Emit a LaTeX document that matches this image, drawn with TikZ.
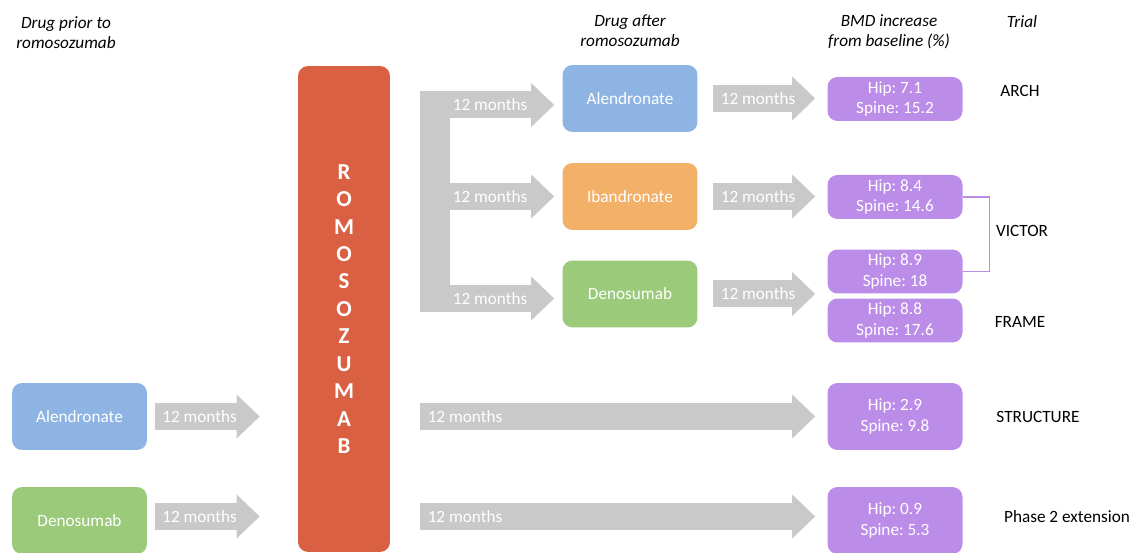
\documentclass[tikz,border=0pt]{standalone}
\usepackage{fontspec}
\setmainfont{Carlito}
\frenchspacing
\usetikzlibrary{arrows.meta, calc, positioning}

\definecolor{aleblue}{RGB}{142,180,227}
\definecolor{ibaorange}{RGB}{243,176,104}
\definecolor{denogreen}{RGB}{155,202,123}
\definecolor{romored}{RGB}{218,96,68}
\definecolor{bmdpurple}{RGB}{188,141,232}
\definecolor{arrowgray}{RGB}{201,201,201}

\begin{document}
\begin{tikzpicture}[
            x = 0.02cm, y = -0.02cm, % one unit per pixel, y going down
            font = \fontsize{9.8}{11.5}\selectfont,
            every text node part/.style={align=center}
        ]

        \tikzstyle{drug}=[
            rectangle,
            rounded corners = 0.2cm,
            text = white,
            inner sep = 0pt,
            minimum width = 2.7cm,
            minimum height = 1.34cm
        ]
        \tikzstyle{result}=[drug, fill = bmdpurple, minimum height = 0.88cm]
        \tikzstyle{header}=[font = \fontsize{9.8}{11.5}\selectfont\itshape]
        \tikzstyle{trial}=[text = black]
        \tikzstyle{fat}=[
            draw = arrowgray,
            line width = 0.54cm,
            -{Triangle[width = 0.88cm, length = 0.46cm, line width = 0pt]}
        ]
        \tikzstyle{months}=[text = white, inner sep = 1pt, outer sep = 0pt]

        \useasboundingbox (0,0) rectangle (1132,553);

        % headers
        \node[header] (hPrior) at (66,33) {Drug prior to \\ romosozumab};
        \node[header] (hAfter) at (630,31) {Drug after \\ romosozumab};
        \node[header] (hBmd) at (889,32) {BMD increase \\ from baseline (\%)};
        \node[header] (hTrial) at (1022,22) {Trial};

        % romosozumab bar
        \node[drug, fill = romored, minimum width = 1.84cm, minimum height = 9.72cm,
              font = \bfseries\fontsize{13}{15.6}\selectfont] (romo) at (344,309)
              {R \\ O \\ M \\ O \\ S \\ O \\ Z \\ U \\ M \\ A \\ B};

        % drugs before and after
        \node[drug, fill = aleblue] (preAle) at (79.5,416.5) {Alendronate};
        \node[drug, fill = denogreen] (preDeno) at (79.5,520.5) {Denosumab};
        \node[drug, fill = aleblue] (postAle) at (630,98.5) {Alendronate};
        \node[drug, fill = ibaorange] (postIba) at (630,196.5) {Ibandronate};
        \node[drug, fill = denogreen] (postDeno) at (630,294) {Denosumab};

        % BMD results
        \node[result] (resArch) at (895,99) {Hip: 7.1 \\ Spine: 15.2};
        \node[result] (resVicA) at (895,197) {Hip: 8.4 \\ Spine: 14.6};
        \node[result] (resVicB) at (895,271.5) {Hip: 8.9 \\ Spine: 18};
        \node[result] (resFrame) at (895,320.5) {Hip: 8.8 \\ Spine: 17.6};
        \node[result, minimum height = 1.34cm] (resStruct) at (895,416.5) {Hip: 2.9 \\ Spine: 9.8};
        \node[result, minimum height = 1.34cm] (resPhase) at (895,520.5) {Hip: 0.9 \\ Spine: 5.3};

        % trials
        \node[trial] (tArch) at (1020,91) {ARCH};
        \node[trial] (tVictor) at (1022,231) {VICTOR};
        \node[trial] (tFrame) at (1020,322) {FRAME};
        \node[trial] (tStruct) at (1038,417) {STRUCTURE};
        \node[trial] (tPhase) at (1067,517) {Phase 2 extension};

        \draw[bmdpurple, line width = 0.6pt] (resVicA.east) -- ++(27,0) |- (resVicB.east);

        % fork after romosozumab
        \coordinate (forkA) at (420,105);
        \coordinate (forkB) at (420,196.5);
        \coordinate (forkC) at (420,298.5);
        \fill[arrowgray] ($(forkA)+(0,-13.5)$) rectangle ($(forkC)+(30,13.5)$);

        \draw[fat] (forkA) -- node[months, pos = 1, anchor = east, xshift = -0.5cm] {12 months} ($(forkA -| postAle.west)+(-8,0)$);
        \draw[fat] (forkB) -- node[months, pos = 1, anchor = east, xshift = -0.5cm] {12 months} ($(forkB -| postIba.west)+(-8,0)$);
        \draw[fat] (forkC) -- node[months, pos = 1, anchor = east, xshift = -0.5cm] {12 months} ($(forkC -| postDeno.west)+(-8,0)$);

        \draw[fat] ($(postAle.east)+(15,0)$) -- node[months, pos = 1, anchor = east, xshift = -0.36cm] {12 months} ($(postAle -| resArch.west)+(-12,0)$);
        \draw[fat] ($(postIba.east)+(15,0)$) -- node[months, pos = 1, anchor = east, xshift = -0.36cm] {12 months} ($(postIba -| resVicA.west)+(-12,0)$);
        \draw[fat] ($(postDeno.east)+(15,0)$) -- node[months, pos = 1, anchor = east, xshift = -0.36cm] {12 months} ($(postDeno -| resVicB.west)+(-12,0)$);

        % prior drugs into romosozumab and straight on
        \draw[fat] ($(preAle.east)+(8,0)$) -- node[months, pos = 1, anchor = east, xshift = -0.42cm] {12 months} ($(preAle -| romo.west)+(-38,0)$);
        \draw[fat] ($(preDeno.east)+(8,-4)$) -- node[months, pos = 1, anchor = east, xshift = -0.42cm] {12 months} ($(preDeno -| romo.west)+(-38,-4)$);

        \draw[fat] (forkA |- preAle) -- node[months, pos = 0, anchor = west, xshift = 0.12cm] {12 months} ($(resStruct.west)+(-12,0)$);
        \draw[fat] ($(forkA |- preDeno)+(0,-4)$) -- node[months, pos = 0, anchor = west, xshift = 0.12cm] {12 months} ($(resPhase.west)+(-12,-4)$);

    \end{tikzpicture}
\end{document}
